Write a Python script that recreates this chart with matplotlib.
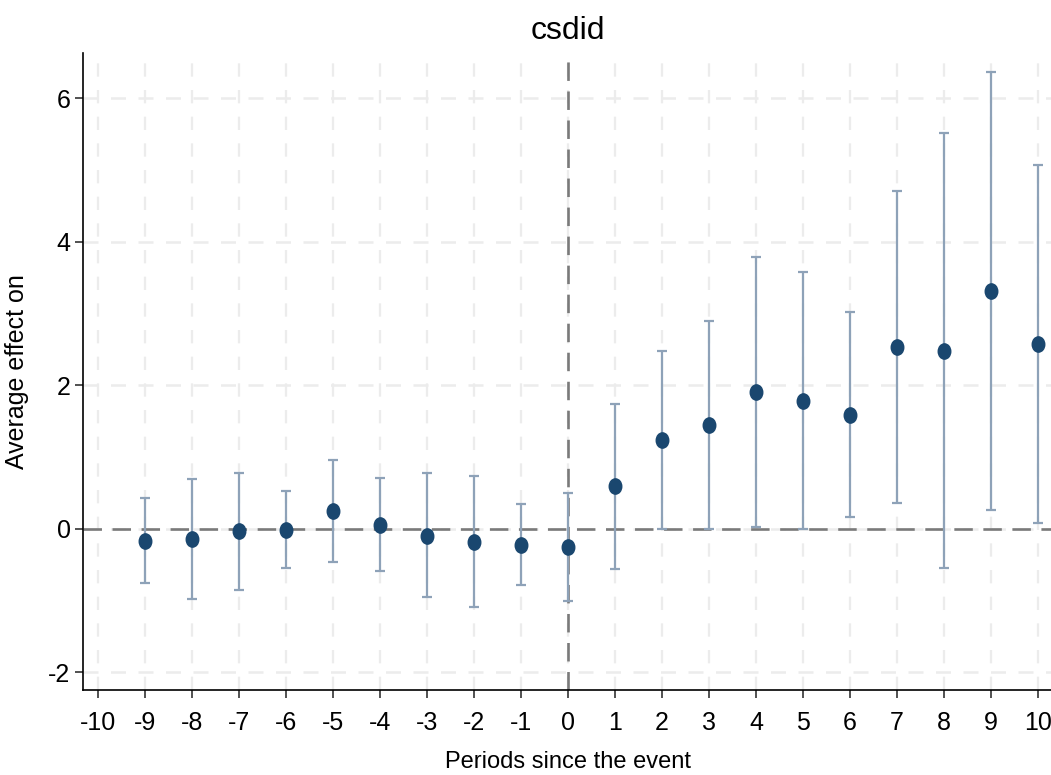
import numpy as np
import matplotlib.pyplot as plt
from matplotlib.path import Path
from matplotlib.transforms import Affine2D

plt.rcParams['font.family'] = ['Liberation Sans Narrow', 'Liberation Sans', 'DejaVu Sans']

# event-time estimates with 95% confidence bounds
periods = [-9, -8, -7, -6, -5, -4, -3, -2, -1, 0, 1, 2, 3, 4, 5, 6, 7, 8, 9, 10]
att = [-0.17, -0.15, -0.04, -0.02, 0.24, 0.05, -0.10, -0.18, -0.23, -0.26,
       0.59, 1.23, 1.45, 1.90, 1.78, 1.59, 2.53, 2.48, 3.31, 2.57]
ci_low = [-0.76, -0.98, -0.86, -0.55, -0.47, -0.59, -0.96, -1.09, -0.79, -1.01,
          -0.56, -0.01, 0.00, 0.02, -0.01, 0.16, 0.35, -0.55, 0.26, 0.08]
ci_high = [0.42, 0.69, 0.77, 0.53, 0.96, 0.70, 0.77, 0.73, 0.34, 0.49,
           1.74, 2.48, 2.90, 3.79, 3.58, 3.02, 4.71, 5.52, 6.37, 5.07]
xticks = list(range(-10, 11))
yticks = [-2, 0, 2, 4, 6]

att = np.array(att)
lo = att - np.array(ci_low)
hi = np.array(ci_high) - att

# slightly tall oval marker
oval = Path.unit_circle().transformed(Affine2D().scale(0.82, 1.0))

fig = plt.figure(figsize=(10.51, 7.75), dpi=100)
ax = fig.add_axes([83 / 1051, 85 / 775, 970 / 1051, 637 / 775])

ax.set_xlim(-10.32, 10.32)
ax.set_ylim(-2.25, 6.63)

for x in xticks:
    ax.axvline(x, color='#ececec', lw=1.6, ls=(0, (6, 6)), zorder=0)
for y in yticks:
    ax.axhline(y, color='#ececec', lw=1.8, ls=(0, (6, 5)), zorder=0)

ax.axhline(0, color='#7a7a7a', lw=1.9, ls=(0, (7, 4)), zorder=1)
ax.axvline(0, color='#7a7a7a', lw=1.9, ls=(0, (7, 4)), zorder=1)

ax.errorbar(periods, att, yerr=[lo, hi], fmt='none', ecolor='#8ea2b8',
            elinewidth=1.6, capsize=3.5, capthick=1.6, zorder=2)
ax.plot(periods, att, ls='none', marker=oval, color='#1a476f', markersize=11, zorder=3)

ax.set_xticks(xticks)
ax.set_xticklabels([str(t) for t in xticks])
ax.set_yticks(yticks)
ax.set_yticklabels([str(t) for t in yticks])
ax.tick_params(axis='both', labelsize=18, length=6, width=1.2, color='#333333')
ax.tick_params(axis='x', pad=9)
ax.tick_params(axis='y', pad=3)

ax.spines['top'].set_visible(False)
ax.spines['right'].set_visible(False)
ax.spines['left'].set_linewidth(1.2)
ax.spines['bottom'].set_linewidth(1.2)

ax.set_xlabel('Periods since the event', fontsize=17, labelpad=12)
ax.set_ylabel('Average effect on', fontsize=18, labelpad=14)
ax.set_title('csdid', fontsize=23, pad=10)

fig.savefig('out.png', dpi=100)
